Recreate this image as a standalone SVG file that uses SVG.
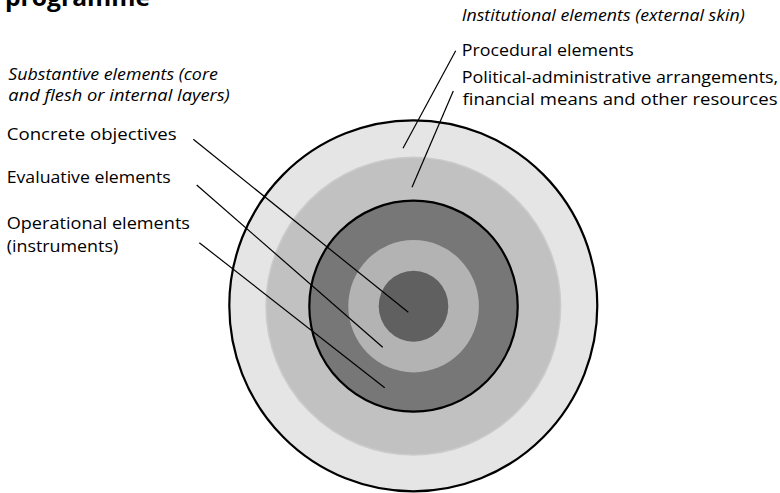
<svg xmlns="http://www.w3.org/2000/svg" width="780" height="493" viewBox="0 0 780 493">
  <style>
    .lbl { font-family: "Open Sans", "Liberation Sans", sans-serif; font-size: 17px; fill: #000; }
    .it { font-style: italic; }
    .title { font-family: "Open Sans", "Liberation Sans", sans-serif; font-size: 23px; font-weight: bold; fill: #000; }
    .lead { stroke: #000; stroke-width: 1.2; fill: none; }
    .ring-edge { stroke: #000; stroke-width: 2.2; }
  </style>
  <rect width="780" height="493" fill="#fff"/>

  <text class="title" x="5" y="6" textLength="145" lengthAdjust="spacingAndGlyphs">programme</text>

  <!-- concentric layers, outermost first -->
  <g id="layer-external-skin">
    <ellipse cx="413.3" cy="305.8" rx="184" ry="185.5" fill="#e5e5e5" class="ring-edge"/>
  </g>
  <g id="layer-arrangements">
    <ellipse cx="413.3" cy="306.1" rx="147.3" ry="148.8" fill="#c1c1c1" stroke="#cbcbcb" stroke-width="1.5"/>
  </g>
  <g id="layer-operational">
    <ellipse cx="413.5" cy="306.2" rx="104.2" ry="105.5" fill="#777777" class="ring-edge"/>
  </g>
  <g id="layer-evaluative">
    <ellipse cx="413.6" cy="306.2" rx="65.3" ry="66.2" fill="#b3b3b3"/>
  </g>
  <g id="layer-objectives">
    <ellipse cx="413.5" cy="306.2" rx="34.8" ry="35.5" fill="#606060"/>
  </g>

  <!-- labels -->
  <g id="label-institutional">
    <text class="lbl it" x="461.7" y="20.5" textLength="283" lengthAdjust="spacingAndGlyphs">Institutional elements (external skin)</text>
  </g>
  <g id="label-procedural">
    <text class="lbl" x="461.7" y="55.5" textLength="172" lengthAdjust="spacingAndGlyphs">Procedural elements</text>
  </g>
  <g id="label-arrangements">
    <text class="lbl" x="461.7" y="82.5" textLength="316.5" lengthAdjust="spacingAndGlyphs">Political-administrative arrangements,</text>
    <text class="lbl" x="462.5" y="105" textLength="315" lengthAdjust="spacingAndGlyphs">financial means and other resources</text>
  </g>
  <g id="label-substantive">
    <text class="lbl it" x="8.3" y="80" textLength="209.5" lengthAdjust="spacingAndGlyphs">Substantive elements (core</text>
    <text class="lbl it" x="8.3" y="101" textLength="221.5" lengthAdjust="spacingAndGlyphs">and flesh or internal layers)</text>
  </g>
  <g id="label-objectives">
    <text class="lbl" x="6.7" y="140" textLength="170" lengthAdjust="spacingAndGlyphs">Concrete objectives</text>
  </g>
  <g id="label-evaluative">
    <text class="lbl" x="6.7" y="182.5" textLength="164" lengthAdjust="spacingAndGlyphs">Evaluative elements</text>
  </g>
  <g id="label-operational">
    <text class="lbl" x="6.7" y="229" textLength="183.3" lengthAdjust="spacingAndGlyphs">Operational elements</text>
    <text class="lbl" x="6.7" y="251.5" textLength="111.5" lengthAdjust="spacingAndGlyphs">(instruments)</text>
  </g>

  <!-- leader lines -->
  <g id="connectors">
    <line class="lead" x1="193.3" y1="139.3" x2="408.3" y2="312.3"/>
    <line class="lead" x1="196.7" y1="185" x2="382.7" y2="347.3"/>
    <line class="lead" x1="199.3" y1="242.7" x2="384.7" y2="387.7"/>
    <line class="lead" x1="455.7" y1="50.7" x2="403" y2="148.3"/>
    <line class="lead" x1="453.3" y1="91" x2="412" y2="187.3"/>
  </g>
</svg>
